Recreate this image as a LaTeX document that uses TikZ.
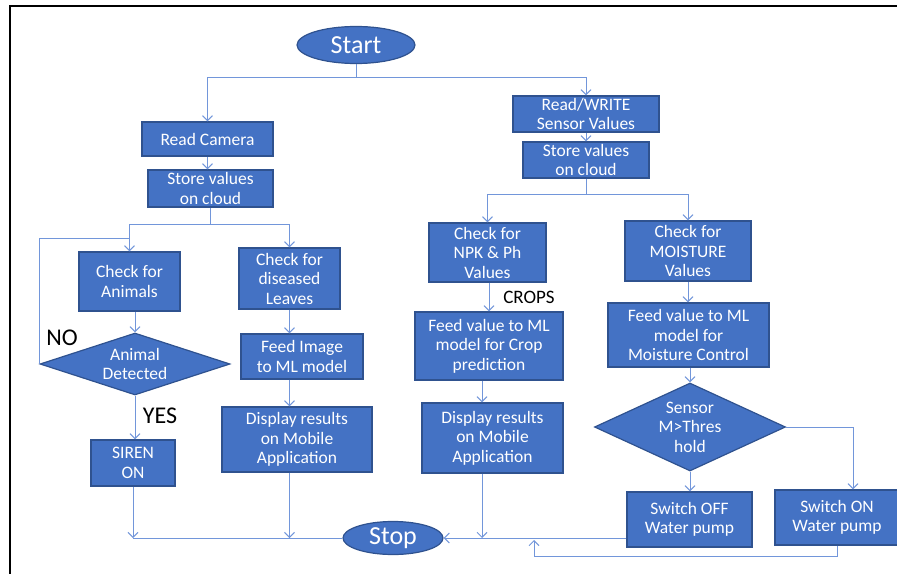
\documentclass[tikz,border=0pt]{standalone}
\usepackage{fontspec}
\setmainfont{Carlito}
\usetikzlibrary{shapes.geometric,arrows.meta}
\definecolor{boxblue}{RGB}{68,114,196}
\definecolor{edgeblue}{RGB}{47,82,143}
\definecolor{lineblue}{RGB}{114,150,218}
\newcommand{\boxfont}{\fontsize{17.5bp}{19.5bp}\selectfont}
\begin{document}
\begin{tikzpicture}[x=1bp,y=-1bp,>={Straight Barb[length=5bp,width=10bp]},
  blk/.style={draw=edgeblue,fill=boxblue,text=white,align=center,inner sep=0pt,line width=1.2bp,font=\boxfont},
  term/.style={blk,ellipse,font=\fontsize{26bp}{30bp}\selectfont},
  dec/.style={blk,diamond},
  lbl/.style={text=black,inner sep=0pt},
  conn/.style={draw=lineblue,line width=1bp}]
\useasboundingbox (0,0) rectangle (897,574);
\draw[line width=2bp] (10,574) -- (10,6) -- (897,6);
\node[term,minimum width=118bp,minimum height=37bp] (start) at (356,45) {Start};
\node[blk,minimum width=131bp,minimum height=34bp] (readcam) at (207.5,139) {Read Camera};
\node[blk,minimum width=125bp,minimum height=37bp] (storeL) at (210.5,188.5) {Store values\\on cloud};
\node[blk,minimum width=101bp,minimum height=59bp] (animals) at (129.5,281.5) {Check for\\Animals};
\node[blk,minimum width=101bp,minimum height=61bp] (diseased) at (289.5,278.5) {Check for\\diseased\\Leaves};
\node[dec,aspect=3,minimum width=190bp,minimum height=62bp] (animdet) at (135,364) {Animal\\Detected};
\node[blk,minimum width=84bp,minimum height=46bp] (siren) at (133,463) {SIREN\\ON};
\node[blk,minimum width=122bp,minimum height=45bp] (feedimg) at (302,356.5) {Feed Image\\to ML model};
\node[blk,minimum width=150bp,minimum height=65bp] (dispL) at (297,439.5) {Display results\\on Mobile\\Application};
\node[term,minimum width=100bp,minimum height=33bp] (stop) at (393,538) {Stop};
\node[blk,minimum width=146bp,minimum height=36bp] (rw) at (586,114) {Read/WRITE\\Sensor Values};
\node[blk,minimum width=126bp,minimum height=36bp] (storeR) at (586,160) {Store values\\on cloud};
\node[blk,minimum width=117bp,minimum height=59bp] (npk) at (487.5,252.5) {Check for\\NPK \& Ph\\Values};
\node[blk,minimum width=126bp,minimum height=60bp] (moist) at (688,251) {Check for\\MOISTURE\\Values};
\node[blk,minimum width=148bp,minimum height=68bp] (feedcrop) at (489,346) {Feed value to ML\\model for Crop\\prediction};
\node[blk,minimum width=141bp,minimum height=70bp] (dispM) at (492.5,438) {Display results\\on Mobile\\Application};
\node[blk,minimum width=161bp,minimum height=64bp] (feedmoist) at (688.5,335) {Feed value to ML\\model for\\Moisture Control};
\node[dec,aspect=2.17,minimum width=191bp,minimum height=88bp] (sensor) at (690,427) {Sensor\\M>Thres\\hold};
\node[blk,minimum width=125bp,minimum height=55bp] (swoff) at (689.5,519.5) {Switch OFF\\Water pump};
\node[blk,minimum width=124bp,minimum height=55bp] (swon) at (837,517.5) {Switch ON\\Water pump};
\node[lbl,font=\fontsize{24bp}{28bp}\selectfont] (no) at (62,338) {NO};
\node[lbl,font=\fontsize{24bp}{28bp}\selectfont] (yes) at (160,416) {YES};
\node[lbl,font=\fontsize{19bp}{22bp}\selectfont] (crops) at (529,297) {CROPS};
\coordinate (sj) at (356,78);
\coordinate (lj) at (210.5,225);
\coordinate (nj) at (129.5,239);
\coordinate (sb) at (133,538);
\coordinate (rj) at (586,195);
\coordinate (oc) at (534,556);
\coordinate (ob) at (534,540);
\draw[conn] (start) -- (sj);
\draw[conn,->] (sj) -| (readcam);
\draw[conn,->] (sj) -| (rw);
\draw[conn,->] (readcam.south) -- (readcam.south |- storeL.north);
\draw[conn] (storeL) -- (lj);
\draw[conn,->] (lj) -| (animals);
\draw[conn,->] (lj) -| (diseased);
\draw[conn] (animdet.west) |- (nj);
\draw[conn,->] (animals.south -| animdet.north) -- (animdet.north);
\draw[conn,->] (animdet.south) -- (animdet.south |- siren.north);
\draw[conn,->] (siren) -- (sb);
\draw[conn] (sb) -- (stop.west);
\draw[conn,->] (diseased.south) -- (diseased.south |- feedimg.north);
\draw[conn,->] (diseased.south |- feedimg.south) -- (diseased.south |- dispL.north);
\draw[conn,->] (diseased.south |- dispL.south) -- (diseased.south |- stop.west);
\draw[conn,->] (rw) -- (storeR);
\draw[conn] (storeR) -- (rj);
\draw[conn,->] (rj) -| (npk);
\draw[conn,->] (rj) -| (moist);
\draw[conn,->] (npk.south -| feedcrop.north) -- (feedcrop.north);
\draw[conn,->] ([xshift=-7bp]feedcrop.south) -- ([xshift=-7bp]feedcrop.south |- dispM.north);
\draw[conn,->] ([xshift=-10.5bp]dispM.south) -- ([xshift=-10.5bp]dispM.south |- stop.east);
\draw[conn,->] (swoff.west |- stop.east) -- (stop.east);
\draw[conn,->] (moist.south) -- (moist.south |- feedmoist.north);
\draw[conn,->] (feedmoist.south -| sensor.north) -- (sensor.north);
\draw[conn,->] (sensor.south) -- (sensor.south |- swoff.north);
\draw[conn,->] (sensor.east) -| ([xshift=16bp]swon.north);
\draw[conn,->] (swon.south) |- (oc) -- (ob);
\end{tikzpicture}
\end{document}
